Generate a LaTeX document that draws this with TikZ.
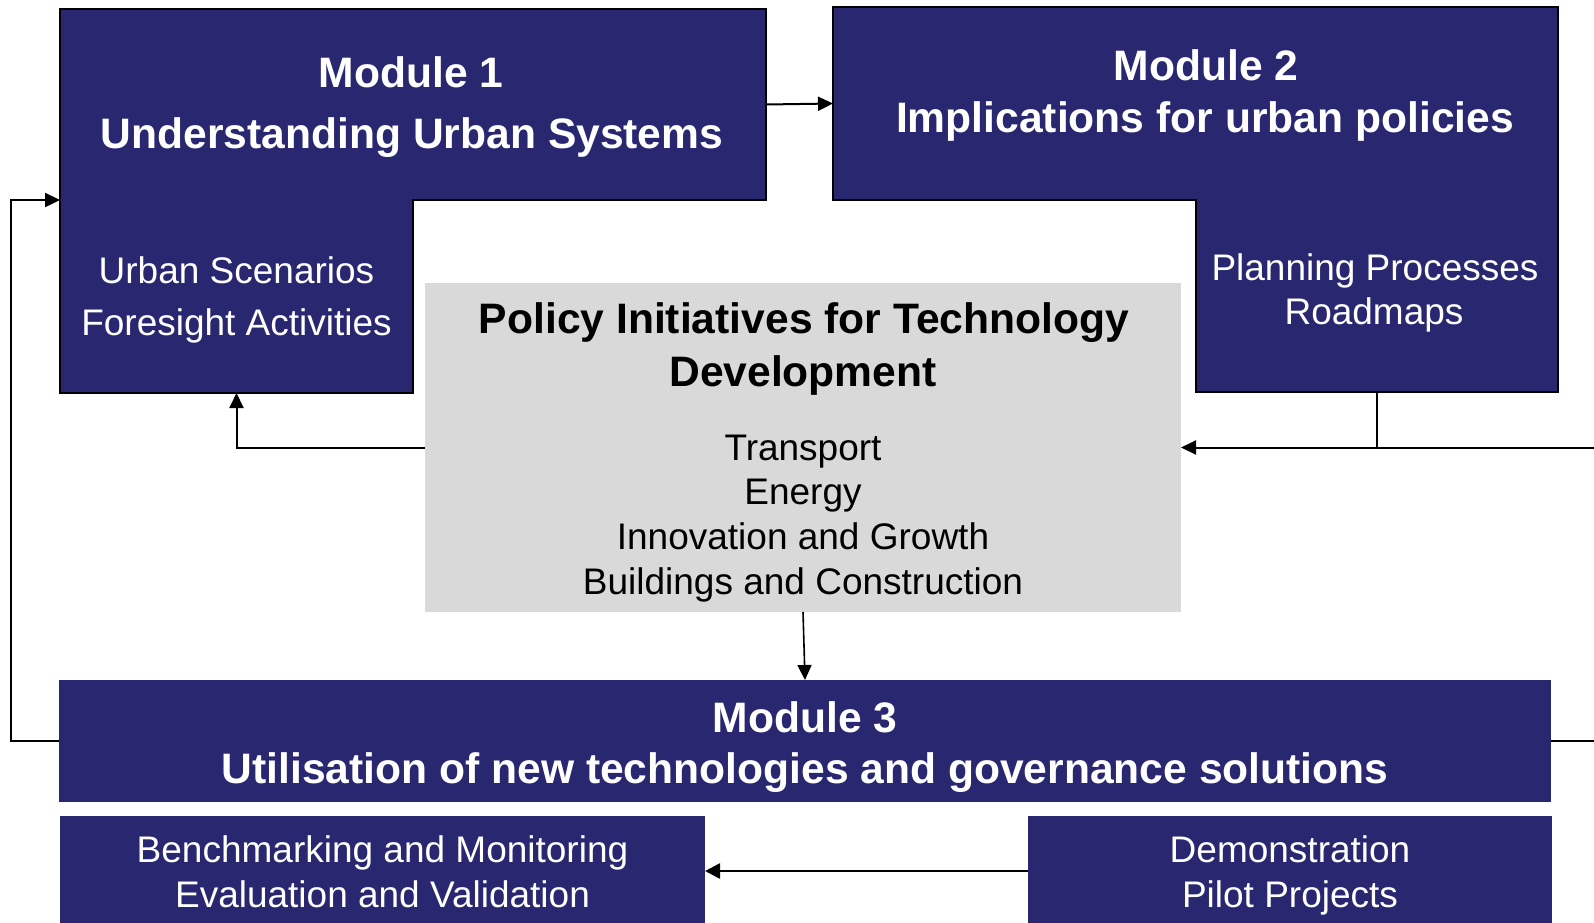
\documentclass[tikz,border=0pt]{standalone}
\usepackage{fontspec}
\setmainfont{Liberation Sans}
\usetikzlibrary{arrows.meta}
\definecolor{navyc}{RGB}{41,39,112}
\definecolor{greyc}{RGB}{217,217,217}
\tikzset{
  box/.style={rectangle, inner sep=0pt, outer sep=0pt, draw=none},
  navybox/.style={box, fill=navyc},
  greybox/.style={box, fill=greyc},
  lshape/.style={fill=navyc, draw=black, line width=2pt},
  title/.style={font=\fontsize{42.6}{50}\selectfont\bfseries, text=white, inner sep=0pt, anchor=base},
  sub/.style={font=\fontsize{37}{44}\selectfont, text=white, inner sep=0pt, anchor=base},
  gtitle/.style={title, text=black},
  gsub/.style={sub, text=black},
  conn/.style={line width=2pt},
  arr/.style={conn, -{Triangle[length=15pt,width=14pt]}},
  thickarr/.style={line width=2.6pt, -{Triangle[length=15pt,width=15pt]}}
}
\begin{document}
\begin{tikzpicture}[x=1pt,y=-1pt]
\useasboundingbox[fill=white] (0,0) rectangle (1594,922);

% box geometry
\node[box, minimum width=706pt, minimum height=191pt] (m1top) at (413,104.5) {};
\node[box, minimum width=353pt, minimum height=193pt] (m1low) at (236.5,296.5) {};
\node[box, minimum width=725pt, minimum height=193pt] (m2top) at (1195.5,103.5) {};
\node[box, minimum width=362.5pt, minimum height=192pt] (m2low) at (1376.75,296) {};

% L-shaped modules
\path[lshape] (m1top.north west) -- (m1top.north east) -- (m1top.south east)
  -- (m1low.north east) -- (m1low.south east) -- (m1low.south west) -- cycle;
\path[lshape] (m2top.north west) -- (m2top.north east) -- (m2low.south east)
  -- (m2low.south west) -- (m2low.north west) -- (m2top.south west) -- cycle;

\node[greybox, minimum width=756pt, minimum height=329pt] (grey) at (803,447.5) {};
\node[navybox, minimum width=1492pt, minimum height=122pt] (m3) at (805,741) {};
\node[navybox, minimum width=645pt, minimum height=110pt] (bench) at (382.5,871) {};
\node[navybox, minimum width=524pt, minimum height=110pt] (demo) at (1290,871) {};

% texts
\node[title] (t1a) at (411,87.5) {Module 1};
\node[title] (t1b) at (412,148.5) {Understanding Urban Systems};
\node[sub] (s1a) at (236.5,283) {Urban Scenarios};
\node[sub] (s1b) at (236.5,335) {Foresight Activities};

\node[title] (t2a) at (1206,80.7) {Module 2};
\node[title] (t2b) at (1205,132.7) {Implications for urban policies};
\node[sub] (s2a) at (1375,280) {Planning Processes};
\node[sub] (s2b) at (1374,324) {Roadmaps};

\node[gtitle] (tga) at (804,333.3) {Policy Initiatives for Technology};
\node[gtitle] (tgb) at (803,386) {Development};
\node[gsub] (sga) at (803,460) {Transport};
\node[gsub] (sgb) at (803,504.5) {Energy};
\node[gsub] (sgc) at (803,549.3) {Innovation and Growth};
\node[gsub] (sgd) at (803,594.3) {Buildings and Construction};

\node[title] (t3a) at (805,732) {Module 3};
\node[title] (t3b) at (805,783) {Utilisation of new technologies and governance solutions};

\node[sub] (sba) at (382.5,862.3) {Benchmarking and Monitoring};
\node[sub] (sbb) at (382.5,907.3) {Evaluation and Validation};
\node[sub] (sda) at (1290,862) {Demonstration};
\node[sub] (sdb) at (1290,907) {Pilot Projects};

% edge coordinates
\coordinate (redgeA) at (1596,741);
\coordinate (redgeB) at (1596,447.5);

% connectors
\draw[arr] (m1top.east) -- (m2top.west);
\draw[conn] (m2low.south) -- (m2low.south |- grey.east);
\draw[arr] (redgeB) -- (grey.east);
\draw[line width=2.4pt] (m3.east) -- (redgeA);
\draw[arr] (grey.west) -| (m1low.south);
\draw[arr, line width=1.6pt] (grey.south) -- (m3.north);
\draw[arr, line width=2.4pt] (m3.west) -- ++(-48,0) |- (m1top.south west);
\draw[thickarr] (demo.west) -- (bench.east);
\end{tikzpicture}
\end{document}
